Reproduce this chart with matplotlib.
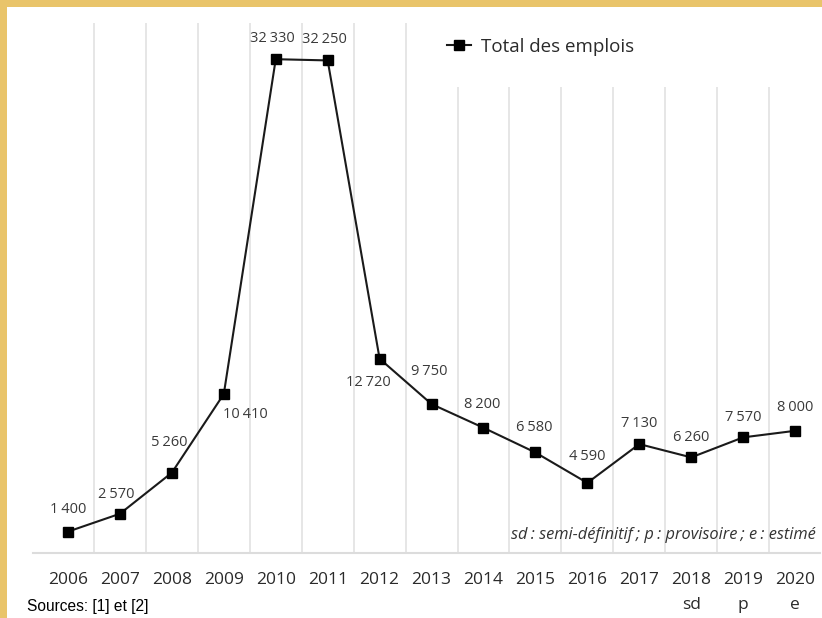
import matplotlib
matplotlib.use("Agg")
import matplotlib.pyplot as plt
from matplotlib.patches import Rectangle

# data
years = ["2006", "2007", "2008", "2009", "2010", "2011", "2012", "2013",
         "2014", "2015", "2016", "2017", "2018", "2019", "2020"]
status = ["", "", "", "", "", "", "", "", "", "", "", "", "sd", "p", "e"]
emplois = [1400, 2570, 5260, 10410, 32330, 32250, 12720, 9750,
           8200, 6580, 4590, 7130, 6260, 7570, 8000]
# label offsets in pixels (dx, dy) relative to each point
label_off = [(0, 22), (-4, 19), (-3, 30), (22, -20), (-3, 21), (-3, 21), (-11, -24),
             (-2, 33), (-1, 23), (-1, 25), (0, 26), (0, 21), (0, 20), (0, 20), (0, 23)]

FONT = ["Open Sans", "DejaVu Sans"]
plt.rcParams["font.family"] = FONT

W, H = 822, 618
fig = plt.figure(figsize=(W / 100, H / 100), dpi=100)
fig.patch.set_facecolor("white")
gold = "#E9C46A"
fig.patches.append(Rectangle((0, 0), 7 / W, 1, transform=fig.transFigure,
                             facecolor=gold, edgecolor="none", zorder=0))
fig.patches.append(Rectangle((0, 1 - 7 / H), 1, 7 / H, transform=fig.transFigure,
                             facecolor=gold, edgecolor="none", zorder=0))

ax = fig.add_axes([33 / W, 1 - 553 / H, (820 - 33) / W, (553 - 23) / H])
ax.set_facecolor("none")
x = list(range(len(years)))
ax.set_xlim(-0.674, 14.48)
ax.set_ylim(0, 34700)

# vertical separators between categories (shorter under the legend)
for i in range(len(years) - 1):
    top = 34700 if i < 7 else 30500
    ax.vlines(i + 0.5, 0, top, color="#e4e4e4", lw=1.3, zorder=1)

ax.plot(x, emplois, color="#1a1a1a", lw=1.5, marker="s", ms=7.5,
        mfc="black", mec="black", zorder=3, label="Total des emplois")

for xi, v, (dx, dy) in zip(x, emplois, label_off):
    ax.annotate(f"{v:,}".replace(",", "\u202f"), (xi, v), xytext=(dx, dy),
                textcoords="offset pixels", ha="center", va="center",
                fontsize=10.5, color="#3a3a3a", family=FONT)

for s in ["top", "left", "right"]:
    ax.spines[s].set_visible(False)
ax.spines["bottom"].set_color("#dcdcdc")
ax.spines["bottom"].set_linewidth(1.5)
ax.set_yticks([])
ax.set_xticks(x)
ax.set_xticklabels([f"{y}\n{s}" if s else y for y, s in zip(years, status)],
                   fontsize=12.5, color="#2a2a2a", linespacing=1.7)
ax.tick_params(axis="x", length=0, pad=14)

ax.legend(loc="center left", bbox_to_anchor=(438 / W, 1 - 47 / H),
          bbox_transform=fig.transFigure, frameon=False, borderpad=0,
          handlelength=1.25, handletextpad=0.55, fontsize=13.5,
          labelcolor="#2a2a2a")

fig.text(816 / W, 1 - 535 / H, "sd\u202f: semi-définitif\u202f; p\u202f: provisoire\u202f; e\u202f: estimé",
         ha="right", va="center", fontsize=11.8, style="italic", color="#333333")
fig.text(27 / W, 1 - 607 / H, "Sources: [1] et [2]", ha="left", va="center",
         fontsize=11.2, family="Liberation Sans", color="black")

fig.savefig("out.png", dpi=100)
